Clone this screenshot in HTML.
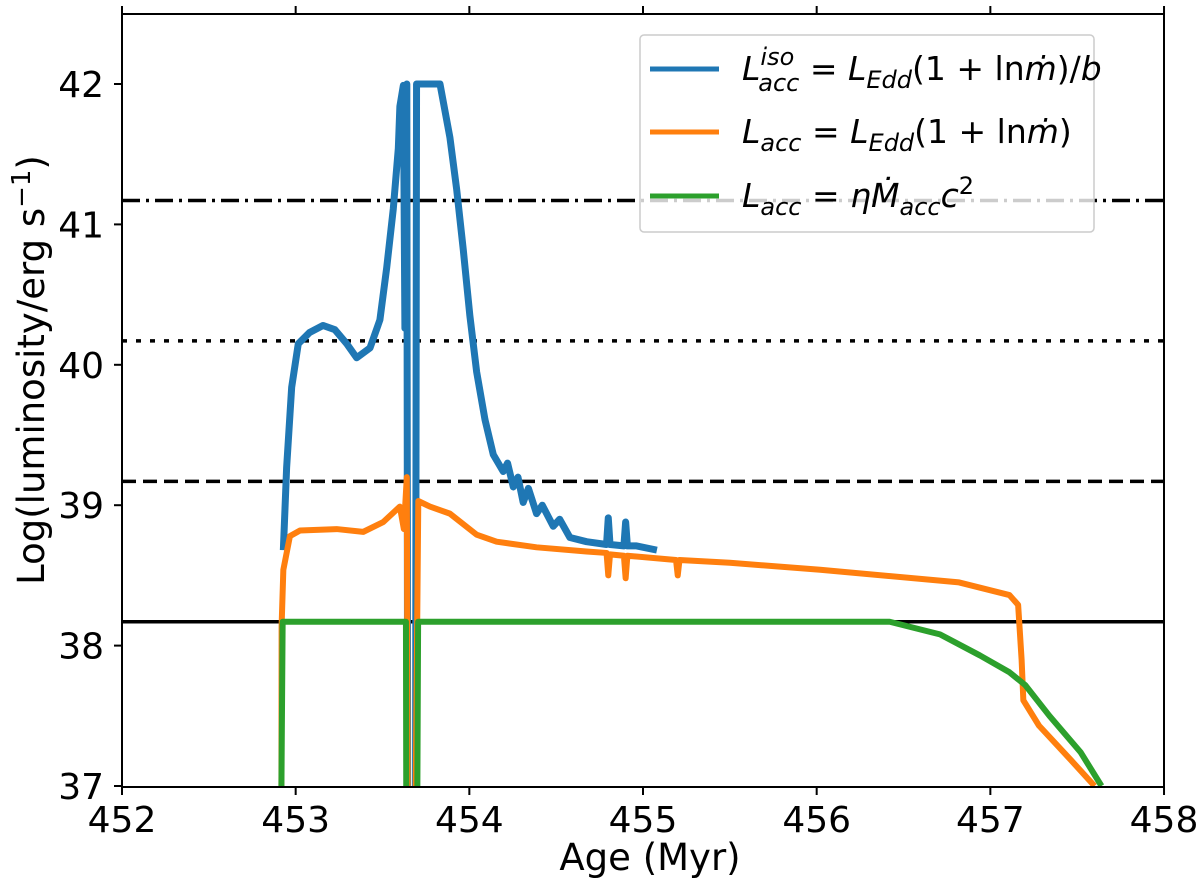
<!DOCTYPE html>
<html><head><meta charset="utf-8"><style>
body{margin:0;background:#fff}
svg{display:block;font-family:"DejaVu Sans","Liberation Sans",sans-serif}
</style></head><body>
<svg id="chart" width="1200" height="894">
<defs><clipPath id="pc"><rect x="122" y="14" width="1042" height="773"/></clipPath></defs>
<g id="refs" clip-path="url(#pc)"></g>
<g id="series" clip-path="url(#pc)"></g>
<rect x="122" y="14" width="1042" height="773" fill="none" stroke="#000" stroke-width="2"/>
<g id="axes"></g>
<text x="650" y="870" font-size="37" text-anchor="middle">Age (Myr)</text>
<text transform="translate(44,370) rotate(-90)" font-size="37" text-anchor="middle">Log(luminosity/erg s<tspan dy="-14" font-size="26">−1</tspan><tspan dy="14">)</tspan></text>
<g>
<rect x="640" y="35" width="454" height="197" rx="4" fill="#fff" fill-opacity="0.8" stroke="#ccc" stroke-width="1.5"/>
<line x1="650" y1="69" x2="719" y2="69" stroke="#1f77b4" stroke-width="5"/>
<line x1="650" y1="132" x2="719" y2="132" stroke="#ff7f0e" stroke-width="5"/>
<line x1="650" y1="196" x2="719" y2="196" stroke="#2ca02c" stroke-width="5"/>
<text x="742" y="80" font-size="33"><tspan font-style="italic">L</tspan><tspan font-size="24" font-style="italic" dy="-15">iso</tspan><tspan font-size="24" font-style="italic" dx="-36" dy="26">acc</tspan><tspan dy="-11"> = </tspan><tspan font-style="italic">L</tspan><tspan font-size="24" font-style="italic" dy="8">Edd</tspan><tspan dy="-8">(1 + ln</tspan><tspan font-style="italic">ṁ</tspan><tspan>)/</tspan><tspan font-style="italic">b</tspan></text>
<text x="742" y="143" font-size="33"><tspan font-style="italic">L</tspan><tspan font-size="24" font-style="italic" dy="8">acc</tspan><tspan dy="-8"> = </tspan><tspan font-style="italic">L</tspan><tspan font-size="24" font-style="italic" dy="8">Edd</tspan><tspan dy="-8">(1 + ln</tspan><tspan font-style="italic">ṁ</tspan><tspan>)</tspan></text>
<text x="742" y="207" font-size="33"><tspan font-style="italic">L</tspan><tspan font-size="24" font-style="italic" dy="8">acc</tspan><tspan dy="-8"> = </tspan><tspan font-style="italic">ηṀ</tspan><tspan font-size="24" font-style="italic" dy="8">acc</tspan><tspan font-style="italic" dy="-8">c</tspan><tspan font-size="24" dy="-13">2</tspan></text>
</g>
</svg>
<script>
const xTicks=[452,453,454,455,456,457,458];
const yTicks=[37,38,39,40,41,42];
const refLevels=[41.17,40.17,39.17,38.17];
const refDash=["18,6,3,6","5,9","14,7",""];
const isoAge=[452.929,452.948,452.977,453.015,453.08,453.157,453.226,453.294,453.351,453.428,453.485,453.524,453.562,453.591,453.60,453.62,453.629,453.64,453.645,453.69,453.696,453.831,453.888,453.927,453.965,454.003,454.042,454.09,454.138,454.195,454.22,454.253,454.28,454.31,454.34,454.387,454.42,454.483,454.52,454.579,454.675,454.79,454.80,454.81,454.89,454.90,454.91,454.963,455.08];
const isoVal=[38.68,39.27,39.84,40.15,40.23,40.28,40.25,40.15,40.05,40.12,40.32,40.69,41.11,41.54,41.84,41.99,40.26,42.0,36.8,36.8,42.0,42.0,41.62,41.25,40.82,40.35,39.95,39.61,39.36,39.24,39.3,39.13,39.2,39.02,39.12,38.94,39.0,38.85,38.9,38.77,38.74,38.72,38.91,38.72,38.71,38.88,38.71,38.71,38.68];
const eddAge=[452.918,452.919,452.929,452.967,453.025,453.236,453.389,453.504,453.60,453.623,453.64,453.645,453.69,453.706,453.773,453.888,454.042,454.157,454.387,454.675,454.79,454.80,454.81,454.89,454.90,454.91,455.19,455.20,455.21,455.5,456.02,456.82,457.11,457.16,457.18,457.19,457.28,457.46,457.6];
const eddVal=[37.0,38.14,38.54,38.78,38.82,38.83,38.81,38.88,38.99,38.83,39.2,36.8,36.8,39.03,38.99,38.94,38.79,38.74,38.70,38.67,38.66,38.5,38.65,38.64,38.48,38.64,38.61,38.5,38.61,38.59,38.54,38.45,38.36,38.29,37.9,37.61,37.43,37.19,37.0];
const etaAge=[452.918,452.925,453.635,453.637,453.70,453.705,456.42,456.71,456.94,457.11,457.2,457.34,457.52,457.64];
const etaVal=[37.0,38.17,38.17,36.8,36.8,38.17,38.17,38.08,37.93,37.81,37.72,37.5,37.24,37.0];
const X=a=>122+(a-452)*173.67, Y=v=>786-(v-37)*140.4;
const NS="http://www.w3.org/2000/svg";
function mk(tag,attrs,parent){const e=document.createElementNS(NS,tag);for(const k in attrs)e.setAttribute(k,attrs[k]);parent.appendChild(e);return e;}
const axes=document.getElementById('axes');
xTicks.forEach(t=>{
 const l=mk('line',{x1:X(t),x2:X(t),y1:787,y2:795,stroke:'#000','stroke-width':2},axes);
 
 
 const l2=mk('line',{x1:X(t),x2:X(t),y1:14,y2:6,stroke:'#000','stroke-width':2},axes);
 
 
 const tx=mk('text',{x:X(t),y:832,'font-size':36,'text-anchor':'middle'},axes);tx.textContent=t;
 
 
});
yTicks.forEach(t=>{
 const l=mk('line',{x1:114,x2:122,y1:Y(t),y2:Y(t),stroke:'#000','stroke-width':2},axes);
 
 
 const tx=mk('text',{x:104,y:Y(t)+13,'font-size':36,'text-anchor':'end'},axes);tx.textContent=t;
 
 
});
const refs=document.getElementById('refs');
refLevels.forEach((v,i)=>{
 const l=mk('line',{x1:122,x2:1164,y1:Y(v),y2:Y(v),stroke:'#000','stroke-width':3.5},refs);
 if(refDash[i])l.setAttribute('stroke-dasharray',refDash[i]);
 
 
});
const ser=document.getElementById('series');
function line(ag,vl,c,w,name){
 const p=mk('polyline',{points:ag.map((a,i)=>X(a)+','+Y(vl[i])).join(' '),fill:'none',stroke:c,'stroke-width':w,'stroke-linejoin':'round'},ser);
 
 
}
line(isoAge,isoVal,'#1f77b4',7,'series-iso');
line(eddAge,eddVal,'#ff7f0e',6,'series-edd');
line(etaAge,etaVal,'#2ca02c',6,'series-eta');
</script>
</body></html>
